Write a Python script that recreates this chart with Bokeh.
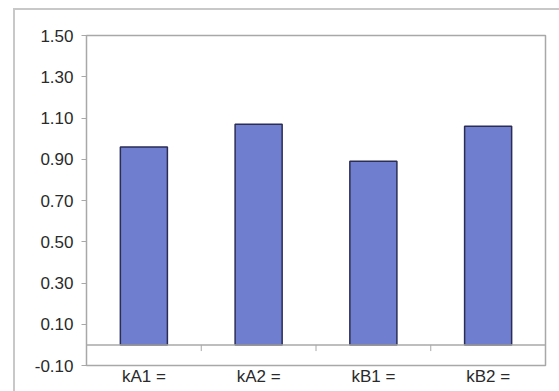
from bokeh.plotting import figure
from bokeh.models import FixedTicker, NumeralTickFormatter, Span, ColumnDataSource, FactorRange
from bokeh.transform import dodge
from bokeh.embed import file_html
from bokeh.resources import INLINE

categories = ["kA1 =", "kA2 =", "kB1 =", "kB2 ="]
values = [0.96, 1.07, 0.89, 1.06]
y_ticks = [-0.10, 0.10, 0.30, 0.50, 0.70, 0.90, 1.10, 1.30, 1.50]

src = ColumnDataSource(data=dict(cat=categories, val=values))

p = figure(x_range=FactorRange(*categories, range_padding=0), y_range=(-0.10, 1.50),
           width=546, height=383, output_backend="svg", toolbar_location=None,
           min_border_left=71, min_border_top=25, min_border_right=16, min_border_bottom=28)
p.margin = (8, 0, 0, 13)
p.styles = {"border-top": "2px solid #c8c8c8", "border-left": "2px solid #c8c8c8", "box-sizing": "border-box"}

p.vbar(x="cat", top="val", bottom=0, width=0.41, source=src,
       fill_color="#6f7ece", line_color="#2b2d55", line_width=1.5)

# zero line
p.add_layout(Span(location=0, dimension="width", line_color="#a8a8a8", line_width=1.5))

# category boundary ticks on zero line
bsrc = ColumnDataSource(data=dict(cat=categories[:-1], y0=[0] * 3, y1=[-0.03] * 3))
p.segment(x0=dodge("cat", 0.5, range=p.x_range), x1=dodge("cat", 0.5, range=p.x_range),
          y0="y0", y1="y1", source=bsrc, line_color="#a8a8a8", line_width=1)

p.xgrid.grid_line_color = None
p.ygrid.grid_line_color = None
p.outline_line_color = "#a8a8a8"
p.outline_line_width = 1.5

p.yaxis.ticker = FixedTicker(ticks=y_ticks)
p.yaxis.formatter = NumeralTickFormatter(format="0.00")
p.yaxis.axis_line_color = "#a8a8a8"
p.yaxis.major_tick_line_color = "#a8a8a8"
p.yaxis.major_tick_out = 5
p.yaxis.major_tick_in = 0
p.yaxis.minor_tick_line_color = None
p.yaxis.major_label_standoff = 8
p.yaxis.major_label_text_font = "Liberation Sans"
p.yaxis.major_label_text_font_size = "17px"
p.yaxis.major_label_text_color = "#2a2a2a"

p.xaxis.axis_line_color = None
p.xaxis.major_tick_line_color = None
p.xaxis.minor_tick_line_color = None
p.xaxis.major_tick_out = 0
p.xaxis.major_tick_in = 0
p.xaxis.major_label_standoff = 1
p.xaxis.major_label_text_font = "Liberation Sans"
p.xaxis.major_label_text_font_size = "17px"
p.xaxis.major_label_text_color = "#2a2a2a"

open("out.html", "w").write(file_html(p, INLINE))
